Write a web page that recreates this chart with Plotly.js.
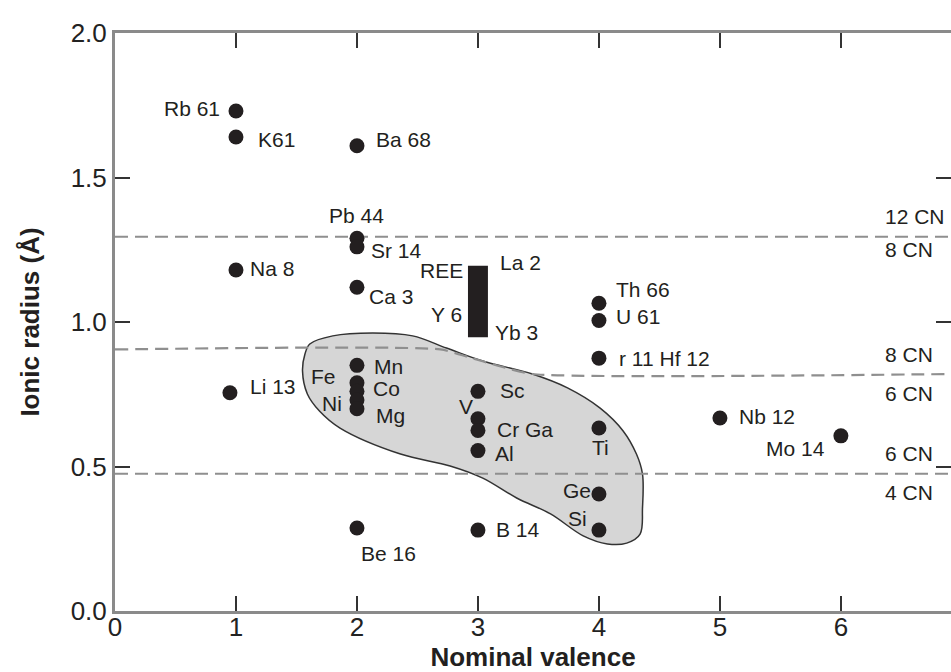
<!DOCTYPE html>
<html>
<head>
<meta charset="utf-8">
<script src="https://cdn.plot.ly/plotly-3.0.1.min.js"></script>
<style>html,body{margin:0;padding:0;background:#fff;}#chart{width:951px;height:672px;}</style>
</head>
<body>
<div id="chart"></div>
<script>
// ---------- data ----------
const elements   = ['Rb','K','Ba','Pb','Sr','Na','Ca','Th','U','Zr','Li','Mn','Co','Fe','Ni','Mg','Sc','V','Cr','Al','Ti','Ge','Si','Be','B','Nb','Mo'];
const valence    = [1, 1, 2, 2, 2, 1, 2, 4, 4, 4, 0.95, 2, 2, 2, 2, 2, 3, 3, 3, 3, 4, 4, 4, 2, 3, 5, 6];
const radius     = [1.73, 1.64, 1.61, 1.29, 1.26, 1.18, 1.12, 1.065, 1.005, 0.875, 0.755, 0.85, 0.79, 0.76, 0.73, 0.70, 0.76, 0.665, 0.625, 0.555, 0.633, 0.405, 0.28, 0.287, 0.28, 0.668, 0.606];
const pointLabels = ['Rb 61','K61','Ba 68','Pb 44','Sr 14','Na 8','Ca 3','Th 66','U 61','r 11 Hf 12','Li 13','Mn','Co','','Ni','Mg','Sc','V','Cr Ga','Al','Ti','Ge','Si','Be 16','B 14','Nb 12','Mo 14'];

// REE range bar
const reeValence = [3];
const reeBottom  = [0.947];
const reeTop     = [1.195];
const reeLabels  = ['REE','La 2','Y 6','Yb 3'];
const feLabel    = {text: 'Fe', x: 1.72, y: 0.81};

// coordination-number boundaries
const cn12Line = {x: [0, 6.91], y: [1.295, 1.295]};
const cn8Line  = {x: [0, 2.69, 2.91, 3.18, 3.45, 6.91], y: [0.905, 0.905, 0.88, 0.847, 0.82, 0.82]};
const cn6Line  = {x: [0, 6.91], y: [0.475, 0.475]};
const cnLabels = ['12 CN','8 CN','8 CN','6 CN','6 CN','4 CN'];
const cnLabelY = [1.295, 1.295, 0.82, 0.82, 0.475, 0.475];

// shaded field outline
const fieldX = [1.61,1.80,2.13,2.46,2.74,3.04,3.45,3.74,4.01,4.20,4.31,4.36,4.36,4.34,4.23,4.07,3.87,3.60,3.32,3.04,2.77,2.36,1.86,1.69,1.59,1.55,1.57,1.61];
const fieldY = [0.924,0.952,0.962,0.952,0.910,0.865,0.820,0.772,0.702,0.623,0.543,0.474,0.356,0.266,0.235,0.232,0.260,0.336,0.391,0.460,0.502,0.543,0.633,0.692,0.751,0.830,0.889,0.924];

const xTicks = [0,1,2,3,4,5,6];
const yTicks = [0,0.5,1,1.5,2];

// ---------- styling ----------
const ink = '#231f20';
const FONT = 'Liberation Sans, Arial, Helvetica, sans-serif';
const labelFont = {family: FONT, size: 21, color: ink};
// [xanchor, xshift, yshift] per point label
const labelPlacement = [
  ['right',-14,3],['left',20,-2],['left',17,6],['center',0,23],['left',12,-4],['left',12,1],['left',10,-9],
  ['left',15,14],['left',15,4],['left',18,0],['left',18,6],['left',15,-1],['left',14,-6],['left',0,0],
  ['right',-13,-3],['left',17,-7],['left',20,1],['center',-12,12],['left',17,1],['left',15,-3],['center',2,-19],
  ['right',-6,3],['right',-10,12],['left',2,-25],['left',16,1],['left',17,1],['right',-14,-13]
];
const dashStyle = {color: '#8f8f8f', width: 2.2, dash: '13px,7px'};

const traces = [
  {type:'scatter', mode:'lines', x: fieldX, y: fieldY, fill:'toself', fillcolor:'#d6d6d6',
   line:{color:'#333', width:1.5, shape:'spline', smoothing:1}, hoverinfo:'skip'},
  {type:'scatter', mode:'lines', x: cn12Line.x, y: cn12Line.y, line: dashStyle},
  {type:'scatter', mode:'lines', x: cn8Line.x, y: cn8Line.y, line: Object.assign({}, dashStyle, {shape:'spline', smoothing:0.6})},
  {type:'scatter', mode:'lines', x: cn6Line.x, y: cn6Line.y, line: dashStyle},
  {type:'bar', x: reeValence, base: reeBottom, y: reeTop.map((t,i)=>t-reeBottom[i]), width: 0.165,
   marker:{color: ink, line:{width:0}}},
  {type:'scatter', mode:'markers', x: valence, y: radius, text: elements,
   marker:{color: ink, size: 15}}
];

const annotations = [];
pointLabels.forEach((t,i)=>{
  if(!t) return;
  const p = labelPlacement[i];
  annotations.push({x: valence[i], y: radius[i], text: t, showarrow:false, xanchor:p[0], yanchor:'middle',
    xshift:p[1], yshift:p[2], font: labelFont});
});
// REE labels
const reePlace = [[reeTop[0],'right',-13,-5],[reeTop[0],'left',20,3],[reeBottom[0],'right',-14,23],[reeBottom[0],'left',15,5]];
reeLabels.forEach((t,i)=>{
  const p = reePlace[i];
  annotations.push({x: reeValence[0], y: p[0], text: t, showarrow:false, xanchor:p[1], yanchor:'middle',
    xshift:p[2], yshift:p[3], font: labelFont});
});
annotations.push({x: feLabel.x, y: feLabel.y, text: feLabel.text, showarrow:false, xanchor:'center', yanchor:'middle', font: labelFont});
// CN labels
const cnShift = [20,-13,20,-19,20,-19];
cnLabels.forEach((t,i)=>{
  annotations.push({x: 6.35, y: cnLabelY[i], text: t, showarrow:false, xanchor:'left', yanchor:'middle',
    yshift: cnShift[i], font: labelFont});
});

const axisCommon = {
  showgrid:false, zeroline:false, showline:true, linecolor:'#8a8a8a', linewidth:3, mirror:'ticks',
  ticks:'inside', ticklen:15, tickwidth:2, tickcolor:'#333',
  tickfont:{family: FONT, size: 26, color: '#222'}
};

const layout = {
  width: 951, height: 672,
  margin: {l:115, r:0, t:33, b:61},
  paper_bgcolor:'#fff', plot_bgcolor:'#fff',
  showlegend:false,
  xaxis: Object.assign({}, axisCommon, {
    range:[0, 6.91], tickvals: xTicks, ticktext: xTicks.map(String), ticklabelstandoff: -9,
    title:{text:'Nominal valence', font:{family: FONT, size: 26, color: ink, weight:'bold'}, standoff: 0}
  }),
  yaxis: Object.assign({}, axisCommon, {
    range:[0, 2], tickvals: yTicks, ticktext: yTicks.map(v=>v.toFixed(1)),
    title:{text:'Ionic radius (Å)', font:{family: FONT, size: 26, color: ink, weight:'bold'}, standoff: 24}
  }),
  annotations: annotations
};

Plotly.newPlot('chart', traces, layout, {displayModeBar:false, staticPlot:true});
</script>
</body>
</html>
